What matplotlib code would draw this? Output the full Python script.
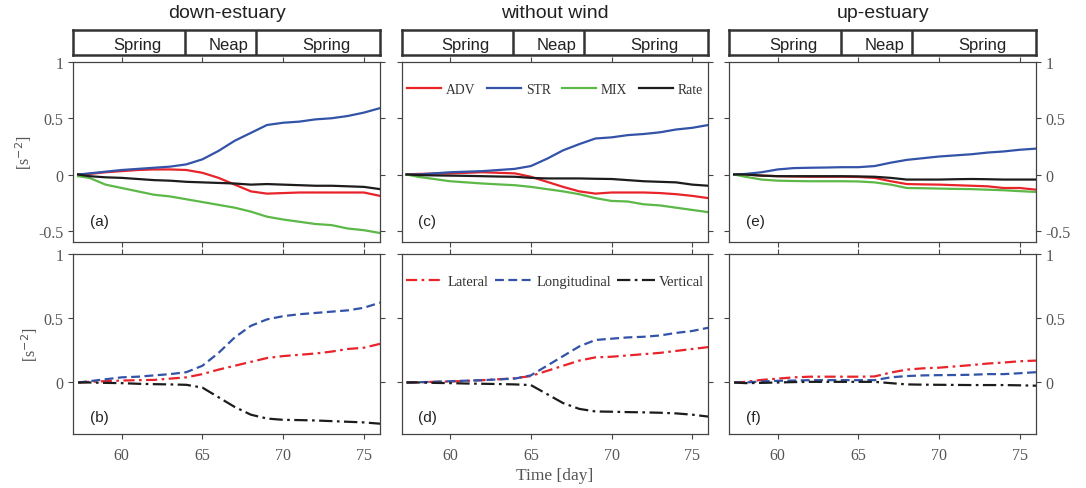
import matplotlib
matplotlib.use("Agg")
from matplotlib import pyplot as plt

# time axis (day), shared by every series
days = [57.3, 58, 59, 60, 61, 62, 63, 64, 65, 66, 67, 68, 69, 70, 71, 72, 73, 74, 75, 76]

# (a) down-estuary, budget terms
adv_a = [0, 0.005, 0.02, 0.03, 0.04, 0.045, 0.045, 0.04, 0.015, -0.03, -0.09, -0.15, -0.17, -0.165, -0.16, -0.16, -0.16, -0.16, -0.16, -0.19]
str_a = [0, 0.01, 0.025, 0.04, 0.05, 0.06, 0.07, 0.09, 0.135, 0.21, 0.30, 0.37, 0.44, 0.46, 0.47, 0.49, 0.50, 0.52, 0.55, 0.59]
mix_a = [-0.015, -0.03, -0.09, -0.12, -0.15, -0.18, -0.195, -0.22, -0.245, -0.27, -0.295, -0.33, -0.375, -0.40, -0.42, -0.44, -0.45, -0.48, -0.495, -0.52]
rate_a = [0, -0.015, -0.025, -0.03, -0.04, -0.05, -0.055, -0.065, -0.07, -0.075, -0.08, -0.09, -0.085, -0.09, -0.095, -0.1, -0.1, -0.105, -0.11, -0.13]
# (b) down-estuary, straining components
lat_b = [0, 0.005, 0.01, 0.015, 0.018, 0.02, 0.03, 0.04, 0.065, 0.10, 0.13, 0.16, 0.19, 0.205, 0.215, 0.225, 0.24, 0.26, 0.27, 0.30]
lon_b = [0, 0.01, 0.025, 0.04, 0.045, 0.055, 0.065, 0.08, 0.13, 0.23, 0.35, 0.44, 0.49, 0.515, 0.53, 0.54, 0.55, 0.56, 0.58, 0.62]
ver_b = [0, 0, -0.003, -0.005, -0.01, -0.013, -0.015, -0.018, -0.04, -0.115, -0.19, -0.25, -0.28, -0.29, -0.292, -0.295, -0.3, -0.305, -0.31, -0.32]

# (c) without wind
adv_c = [0, 0.005, 0.008, 0.01, 0.015, 0.02, 0.015, 0.01, -0.02, -0.065, -0.11, -0.15, -0.17, -0.16, -0.16, -0.16, -0.165, -0.175, -0.19, -0.21]
str_c = [0, 0, 0.01, 0.02, 0.025, 0.03, 0.04, 0.05, 0.075, 0.14, 0.215, 0.27, 0.32, 0.33, 0.35, 0.36, 0.375, 0.40, 0.415, 0.44]
mix_c = [0, -0.02, -0.04, -0.06, -0.07, -0.08, -0.088, -0.095, -0.11, -0.13, -0.15, -0.175, -0.21, -0.235, -0.24, -0.265, -0.275, -0.295, -0.315, -0.335]
rate_c = [0, -0.005, -0.008, -0.01, -0.012, -0.015, -0.018, -0.02, -0.03, -0.035, -0.035, -0.035, -0.038, -0.04, -0.05, -0.06, -0.065, -0.07, -0.09, -0.10]
# (d)
lat_d = [0, 0.002, 0.005, 0.008, 0.012, 0.018, 0.025, 0.033, 0.05, 0.09, 0.13, 0.17, 0.195, 0.20, 0.21, 0.22, 0.23, 0.245, 0.26, 0.275]
lon_d = [0, 0.002, 0.005, 0.01, 0.014, 0.018, 0.024, 0.03, 0.055, 0.13, 0.205, 0.28, 0.33, 0.34, 0.35, 0.355, 0.365, 0.385, 0.40, 0.425]
ver_d = [0, 0, -0.003, -0.005, -0.008, -0.01, -0.012, -0.015, -0.02, -0.09, -0.16, -0.205, -0.225, -0.227, -0.23, -0.232, -0.235, -0.24, -0.25, -0.265]

# (e) up-estuary
adv_e = [0, 0, -0.01, -0.015, -0.018, -0.02, -0.02, -0.02, -0.022, -0.03, -0.06, -0.085, -0.088, -0.09, -0.095, -0.1, -0.105, -0.12, -0.12, -0.135]
str_e = [0, 0.005, 0.02, 0.045, 0.057, 0.06, 0.062, 0.065, 0.065, 0.075, 0.105, 0.13, 0.145, 0.16, 0.17, 0.18, 0.195, 0.205, 0.22, 0.23]
mix_e = [0, -0.02, -0.045, -0.055, -0.058, -0.06, -0.06, -0.06, -0.062, -0.07, -0.09, -0.12, -0.122, -0.125, -0.128, -0.13, -0.135, -0.14, -0.148, -0.155]
rate_e = [0, 0, -0.01, -0.015, -0.015, -0.015, -0.015, -0.015, -0.017, -0.02, -0.03, -0.045, -0.045, -0.045, -0.042, -0.04, -0.042, -0.045, -0.045, -0.045]
# (f)
lat_f = [0, 0.005, 0.02, 0.03, 0.04, 0.045, 0.045, 0.045, 0.045, 0.047, 0.077, 0.10, 0.11, 0.115, 0.125, 0.135, 0.147, 0.155, 0.165, 0.17]
lon_f = [0, 0, 0.008, 0.013, 0.015, 0.018, 0.018, 0.018, 0.018, 0.018, 0.04, 0.05, 0.055, 0.057, 0.058, 0.06, 0.065, 0.065, 0.072, 0.08]
ver_f = [0, -0.005, -0.003, 0, 0.003, 0.005, 0.005, 0.005, 0.005, 0.005, -0.005, -0.015, -0.017, -0.018, -0.019, -0.02, -0.02, -0.02, -0.022, -0.025]

titles = ["down-estuary", "without wind", "up-estuary"]
top_labels = ["(a)", "(c)", "(e)"]
bot_labels = ["(b)", "(d)", "(f)"]
budget = [(adv_a, str_a, mix_a, rate_a), (adv_c, str_c, mix_c, rate_c), (adv_e, str_e, mix_e, rate_e)]
strain = [(lat_b, lon_b, ver_b), (lat_d, lon_d, ver_d), (lat_f, lon_f, ver_f)]

budget_names = ["ADV", "STR", "MIX", "Rate"]
strain_names = ["Lateral", "Longitudinal", "Vertical"]
phases = ["Spring", "Neap", "Spring"]
phase_edges = [57, 63.9, 68.3, 76]

red, blue, green, black = "#e8232a", "#3253a8", "#5cb847", "#1c1c1c"
budget_colors = [red, blue, green, black]
strain_colors = [red, blue, black]
strain_styles = [(0, (5, 2, 1.2, 2)), (0, (4, 2)), (0, (6, 2, 1.2, 2))]

SERIF = "Liberation Serif"
SANS = "Liberation Sans"
tick_grey = "#555555"
spine_grey = "#444444"

W, H = 1086, 489
fig = plt.figure(figsize=(W / 100, H / 100), dpi=100)

lefts = [73.3, 401.7, 729.3]
width = 306.7


def px_rect(x0, y0, x1, y1):
    return [x0 / W, 1 - y1 / H, (x1 - x0) / W, (y1 - y0) / H]


def style_axes(ax, col):
    for s in ax.spines.values():
        s.set_color(spine_grey)
        s.set_linewidth(0.9)
    ax.tick_params(direction="out", length=3.5, width=0.8, color=spine_grey,
                   top=True, right=True, labelcolor=tick_grey, labelsize=11.5)
    ax.tick_params(axis="x", pad=6)
    ax.tick_params(labelleft=(col == 0), labelright=(col == 2))
    for lab in ax.get_xticklabels() + ax.get_yticklabels():
        lab.set_family(SERIF)
    ax.set_xlim(57, 76)
    ax.set_xticks([60, 65, 70, 75])


for col in range(3):
    x0 = lefts[col]
    x1 = x0 + width

    # spring / neap bar
    bx = fig.add_axes(px_rect(x0, 31, x1, 56))
    bx.set_xlim(57, 76)
    bx.set_ylim(0, 1)
    bx.set_xticks([])
    bx.set_yticks([])
    for s in bx.spines.values():
        s.set_color("#333333")
        s.set_linewidth(1.8)
    for e in phase_edges[1:-1]:
        bx.axvline(e, color="#333333", lw=1.8)
    for i, name in enumerate(phases):
        xc = (phase_edges[i] + phase_edges[i + 1]) / 2 + 0.5
        bx.text(xc, 0.42, name, ha="center", va="center", fontsize=12, family=SANS, color="#222222")
    fig.text((x0 + width / 2) / W, 1 - 14 / H, titles[col], ha="center", va="center",
             fontsize=14, family=SANS, color="#222222")

    # budget terms
    ax = fig.add_axes(px_rect(x0, 63, x1, 243))
    for series, name, c in zip(budget[col], budget_names, budget_colors):
        ax.plot(days, series, color=c, lw=1.6, label=name)
    ax.set_ylim(-0.6, 1)
    ax.set_yticks([-0.5, 0, 0.5, 1], ["-0.5", "0", "0.5", "1"])
    style_axes(ax, col)
    ax.tick_params(labelbottom=False)
    ax.text(0.054, 0.117, top_labels[col], transform=ax.transAxes, fontsize=11,
            family=SANS, color="#222222", va="center")
    if col == 1:
        ax.legend(loc="center", bbox_to_anchor=(0.5, 0.846), ncol=4, frameon=False,
                  handlelength=2.5, handletextpad=0.35, columnspacing=0.85,
                  prop={"family": SERIF, "size": 9.8}, labelcolor="#333333")

    # straining components
    ax2 = fig.add_axes(px_rect(x0, 254.7, x1, 435))
    for series, name, c, ls in zip(strain[col], strain_names, strain_colors, strain_styles):
        ax2.plot(days, series, color=c, lw=1.6, linestyle=ls, label=name)
    ax2.set_ylim(-0.4, 1)
    ax2.set_yticks([0, 0.5, 1], ["0", "0.5", "1"])
    style_axes(ax2, col)
    ax2.text(0.054, 0.094, bot_labels[col], transform=ax2.transAxes, fontsize=11,
             family=SANS, color="#222222", va="center")
    if col == 1:
        ax2.legend(loc="center", bbox_to_anchor=(0.5, 0.847), ncol=3, frameon=False,
                   handlelength=2.6, handletextpad=0.25, columnspacing=0.4,
                   prop={"family": SERIF, "size": 10.5}, labelcolor="#333333")
        ax2.set_xlabel("Time [day]", family=SERIF, fontsize=12.5, color=tick_grey, labelpad=3)
    if col == 0:
        ax.set_ylabel("[s$^{-2}$]", family=SERIF, fontsize=11.5, color=tick_grey, labelpad=3)
        ax2.set_ylabel("[s$^{-2}$]", family=SERIF, fontsize=11.5, color=tick_grey, labelpad=3)

fig.savefig("out.png", dpi=100)
